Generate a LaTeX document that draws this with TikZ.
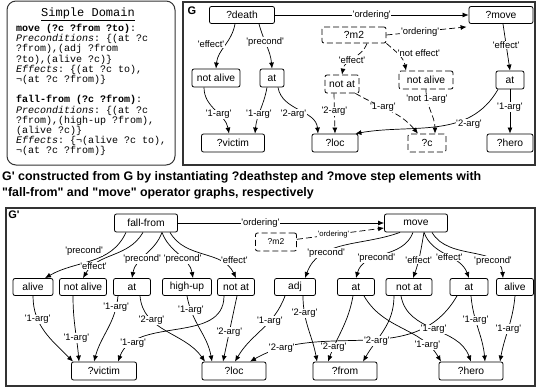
\documentclass[tikz,border=0pt]{standalone}
\usepackage{fontspec}
\setmainfont{Liberation Sans}
\setmonofont{Liberation Mono}
\usetikzlibrary{positioning, arrows.meta}

\newcommand{\qt}[1]{\textquotesingle#1\textquotesingle}

\tikzset{
	stepnode/.style={draw, rounded corners=2pt, line width=0.8pt, minimum height=18pt, inner sep=1pt, font=\fontsize{10.3}{12}\selectfont},
	dstep/.style={stepnode, dash pattern=on 6pt off 3pt},
	lbl/.style={fill=white, inner sep=0.6pt, font=\fontsize{9.4}{10}\selectfont},
	slbl/.style={lbl, font=\fontsize{7.7}{9}\selectfont},
	arc/.style={line width=0.7pt, -{Latex[length=6pt,width=5pt]}},
	darc/.style={arc, dash pattern=on 6pt off 3pt},
	frame/.style={draw=black!80, line width=1.2pt}
}

\begin{document}
\begin{tikzpicture}[x=1pt, y=-1pt]
	\useasboundingbox (0,0) rectangle (536,389);

	% Domain
	\draw[draw=black!80, line width=1pt, rounded corners=9pt] (7,1) rectangle (175,165);
	\node[font=\ttfamily\fontsize{12}{13}\selectfont, inner sep=0] (dtitle) at (88,14) {\underline{Simple Domain}};
	\node[anchor=north west, align=left, inner sep=0, font=\ttfamily\fontsize{10}{10.2}\selectfont] (dtext) at (16,24) {%
		\textbf{move (?c ?from ?to)}:\\
		\textit{Preconditions}: \{(at ?c\\
		?from),(adj ?from\\
		?to),(alive ?c)\}\\
		\textit{Effects}: \{(at ?c to),\\
		¬(at ?c ?from)\}\\[10.2pt]
		\textbf{fall-from (?c ?from)}:\\
		\textit{Preconditions}: \{(at ?c\\
		?from),(high-up ?from),\\
		(alive ?c)\}\\
		\textit{Effects}: \{¬(alive ?c to),\\
		¬(at ?c ?from)\}};

	% caption
	\node[anchor=north west, align=left, inner sep=0, font=\bfseries\fontsize{12.4}{16}\selectfont] (capt) at (2,171) {G\textquotesingle{} constructed from G by instantiating ?deathstep and ?move step elements with\\\textquotedbl fall-from\textquotedbl{} and \textquotedbl move\textquotedbl{} operator graphs, respectively};

	% G
	\draw[frame] (183,2) rectangle (535,165);
	\node[font=\bfseries\fontsize{11}{12}\selectfont, inner sep=0] (gname) at (192,11) {G};
	\node[stepnode, minimum width=65pt, minimum height=17pt] (death) at (242,15) {?death};
	\node[stepnode, minimum width=64pt, minimum height=17pt] (gmove) at (501,15) {?move};
	\node[dstep, minimum width=64pt, minimum height=16pt] (gm2) at (354,35) {?m2};
	\node[stepnode, minimum width=48pt] (gnal) at (216,78) {not alive};
	\node[stepnode, minimum width=24pt] (gat) at (272,78) {at};
	\node[dstep, minimum width=34pt] (gnat) at (342,84) {not at};
	\node[dstep, minimum width=54pt] (gnalr) at (426,80) {not alive};
	\node[stepnode, minimum width=28pt] (gatr) at (510,80) {at};
	\node[stepnode, minimum width=63pt] (gvictim) at (233,143) {?victim};
	\node[stepnode, minimum width=46pt] (gloc) at (335,143) {?loc};
	\node[dstep, minimum width=38pt] (gc) at (427,143) {?c};
	\node[stepnode, minimum width=46pt] (ghero) at (510,143) {?hero};

	\draw[arc] (death) -- node[lbl] {\qt{ordering}} (gmove);
	\draw[arc] ([xshift=-7pt]death.south) to[out=-100, in=85] node[lbl, pos=0.45, left=1pt] {\qt{effect}} (gnal.north);
	\draw[arc] ([xshift=17pt]death.south) to[out=-75, in=95] node[lbl, pos=0.4] {\qt{precond}} (gat.north);
	\draw[arc] ([xshift=-12pt]gnal.south) to[out=-90, in=100] node[lbl, pos=0.6] {\qt{1-arg}} ([xshift=-4pt]gvictim.north);
	\draw[arc] ([xshift=-5pt]gat.south) to[out=-100, in=85] node[lbl, pos=0.6] {\qt{1-arg}} ([xshift=22pt]gvictim.north);
	\draw[arc] ([xshift=6pt]gat.south) to[out=-80, in=95] node[lbl, pos=0.6, left=-3pt] {\qt{2-arg}} ([xshift=-17pt]gloc.north);
	\draw[darc] ([xshift=13pt]gm2.south) to[out=-110, in=80] node[lbl, pos=0.55] {\qt{effect}} (gnat.north);
	\draw[darc] (gm2.south east) to[out=-40, in=100] node[lbl, pos=0.4, right] {\qt{not effect}} ([xshift=-20pt]gnalr.north);
	\draw[darc] (gm2.east) -- node[lbl, pos=0.42] {\qt{ordering}} ([xshift=-2pt, yshift=-3pt]gmove.south west);
	\draw[arc] ([xshift=2pt]gmove.south) -- node[lbl, pos=0.45] {\qt{effect}} (gatr.north);
	\draw[arc] (gatr) -- node[lbl, pos=0.4] {\qt{1-arg}} (ghero);
	\draw[arc] ([xshift=-12pt]gatr.south) to[out=-120, in=10] node[lbl, pos=0.27, below=1pt] {\qt{2-arg}} ([xshift=-3pt]gloc.north east);
	\draw[darc] (gnalr.south) to[out=-90, in=90] node[lbl, pos=0.2] {\qt{not 1-arg}} ([xshift=8pt]gc.north);
	\draw[darc] ([xshift=-4pt]gnat.south east) to[out=-30, in=130] node[lbl, pos=0.4] {\qt{1-arg}} ([xshift=-9pt]gc.north);
	\draw[darc] ([xshift=-8pt]gnat.south) -- node[lbl, pos=0.45] {\qt{2-arg}} (gloc.north);

	% G'
	\draw[frame] (6,208) rectangle (535,386);
	\node[font=\bfseries\fontsize{11}{12}\selectfont, inner sep=0] (gpname) at (14,215) {G\textquotesingle};
	\node[stepnode, minimum width=63pt] (ff) at (146,223) {fall-from};
	\node[stepnode, minimum width=63pt] (mv) at (416,223) {move};
	\node[dstep, minimum width=41pt, font=\fontsize{8.5}{10}\selectfont] (m2) at (276,242) {?m2};
	\node[stepnode, minimum width=40pt, minimum height=17pt] (alive) at (33,287) {alive};
	\node[stepnode, minimum width=47pt, minimum height=17pt] (nal) at (83,287) {not alive};
	\node[stepnode, minimum width=37pt, minimum height=17pt] (at1) at (132,287) {at};
	\node[stepnode, minimum width=49pt, minimum height=17pt] (hup) at (187,287) {high-up};
	\node[stepnode, minimum width=37pt, minimum height=17pt] (nat1) at (236,287) {not at};
	\node[stepnode, minimum width=41pt, minimum height=17pt] (adj) at (295,287) {adj};
	\node[stepnode, minimum width=37pt, minimum height=17pt] (at2) at (356,287) {at};
	\node[stepnode, minimum width=46pt, minimum height=17pt] (nat2) at (409,287) {not at};
	\node[stepnode, minimum width=38pt, minimum height=17pt] (at3) at (469,287) {at};
	\node[stepnode, minimum width=37pt, minimum height=17pt] (alv2) at (515,287) {alive};
	\node[stepnode, minimum width=65pt] (victim) at (104,371) {?victim};
	\node[stepnode, minimum width=64pt] (loc) at (234,371) {?loc};
	\node[stepnode, minimum width=64pt] (from) at (345,371) {?from};
	\node[stepnode, minimum width=64pt] (hero) at (471,371) {?hero};

	\draw[arc] (ff) -- node[lbl, pos=0.4] {\qt{ordering}} (mv);
	\draw[darc] (m2) -- node[slbl, pos=0.42] {\qt{ordering}} ([yshift=-5pt]mv.west);
	\draw[arc] ([xshift=-20pt]ff.south) to[out=-115, in=30] node[lbl, pos=0.36, above left=-1pt] {\qt{precond}} ([xshift=12pt]alive.north);
	\draw[arc] ([xshift=-3pt]ff.south) to[out=-120, in=60] node[lbl, pos=0.8] {\qt{effect}} (nal.north);
	\draw[arc] ([xshift=16pt]ff.south) to[out=-110, in=80] node[lbl, pos=0.6] {\qt{precond}} (at1.north);
	\draw[arc] ([xshift=16pt]ff.south) to[out=-70, in=100] node[lbl, pos=0.6] {\qt{precond}} ([xshift=6pt]hup.north);
	\draw[arc] ([xshift=24pt]ff.south) to[out=-60, in=115] node[lbl, pos=0.75, above right=-3pt] {\qt{effect}} (nat1.north);
	\draw[arc] ([xshift=-16pt]mv.south) to[out=-160, in=70] node[lbl, pos=0.68] {\qt{precond}} ([xshift=10pt]adj.north);
	\draw[arc] ([xshift=-3pt]mv.south) to[out=-110, in=75] node[lbl, pos=0.6] {\qt{precond}} (at2.north);
	\draw[arc] ([xshift=8pt]mv.south) to[out=-100, in=70] node[lbl, pos=0.6] {\qt{effect}} ([xshift=4pt]nat2.north);
	\draw[arc] ([xshift=8pt]mv.south) to[out=-70, in=110] node[lbl, pos=0.55] {\qt{effect}} (at3.north);
	\draw[arc] ([xshift=16pt]mv.south) to[out=-60, in=95] node[lbl, pos=0.75] {\qt{precond}} ([xshift=-12pt]alv2.north);

	\draw[arc] (alive.south) to[out=-90, in=135] node[lbl, pos=0.3] {\qt{1-arg}} ([xshift=2pt]victim.north west);
	\draw[arc] ([xshift=-10pt]nal.south) to[out=-90, in=95] node[lbl, pos=0.65] {\qt{1-arg}} ([xshift=-25pt]victim.north);
	\draw[arc] ([xshift=-14pt]at1.south) to[out=-95, in=75] node[lbl, pos=0.15] {\qt{1-arg}} ([xshift=-10pt]victim.north);
	\draw[arc] ([xshift=8pt]at1.south) to[out=-85, in=125] node[lbl, pos=0.3] {\qt{2-arg}} ([xshift=-29pt]loc.north);
	\draw[arc] (hup.south) to[out=-80, in=100] node[lbl, pos=0.2] {\qt{1-arg}} ([xshift=-22pt]loc.north);
	\draw[arc] ([xshift=-12pt]nat1.south) to[out=-90, in=70] node[lbl, pos=0.82] {\qt{1-arg}} ([xshift=14pt]victim.north);
	\draw[arc] ([xshift=1pt]nat1.south) -- node[lbl, pos=0.55] {\qt{2-arg}} ([xshift=-11pt]loc.north);
	\draw[arc] ([xshift=-10pt]adj.south) to[out=-110, in=60] node[lbl, pos=0.35] {\qt{1-arg}} ([xshift=1pt]loc.north);
	\draw[arc] ([xshift=-12pt]at3.south) to[out=-120, in=30] node[lbl, pos=0.86] {\qt{2-arg}} ([xshift=16pt]loc.north);
	\draw[arc] ([xshift=8pt]adj.south) to[out=-90, in=100] node[lbl, pos=0.25] {\qt{2-arg}} ([xshift=-28pt]from.north);
	\draw[arc] ([xshift=-3pt]at2.south) to[out=-100, in=70] node[lbl, pos=0.8] {\qt{2-arg}} ([xshift=-17pt]from.north);
	\draw[arc] ([xshift=8pt]at2.south) to[out=-60, in=120] node[lbl, pos=0.8] {\qt{1-arg}} ([xshift=-30pt]hero.north);
	\draw[arc] ([xshift=-15pt]nat2.south) to[out=-90, in=60] node[lbl, pos=0.68] {\qt{2-arg}} ([xshift=18pt]from.north);
	\draw[arc] ([xshift=-8pt]nat2.south) to[out=-80, in=110] node[lbl, pos=0.5] {\qt{1-arg}} (hero.north);
	\draw[arc] ([xshift=2pt]at3.south) to[out=-85, in=95] node[lbl, pos=0.36] {\qt{1-arg}} ([xshift=14pt]hero.north);
	\draw[arc] (alv2.south) to[out=-95, in=80] node[lbl, pos=0.5] {\qt{1-arg}} ([xshift=29pt]hero.north);
\end{tikzpicture}
\end{document}
